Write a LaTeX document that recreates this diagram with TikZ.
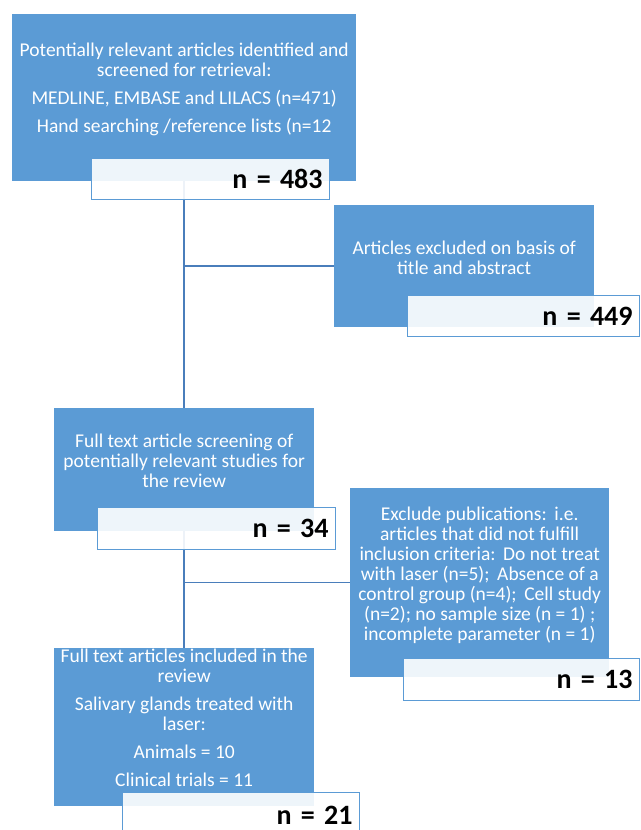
\documentclass[tikz,border=0pt]{standalone}
\usepackage{fontspec}
\setmainfont{Carlito}
\usetikzlibrary{backgrounds,calc}
\pgfdeclarelayer{background}
\pgfsetlayers{background,main}
\definecolor{boxblue}{RGB}{91,155,213}
\definecolor{lineblue}{RGB}{74,126,187}
\tikzset{
  bluebox/.style={fill=boxblue, inner sep=0pt, anchor=north west},
  boxtext/.style={text=white, align=center, inner sep=0pt,
    font=\fontsize{19.5}{20}\selectfont},
  countbox/.style={draw=boxblue, line width=1.2pt, fill=white,
    fill opacity=0.9, text opacity=1, text width=#1, align=right,
    inner xsep=7pt, inner ysep=0pt, anchor=north west,
    font=\bfseries\fontsize{28}{30}\selectfont},
  link/.style={draw=lineblue, line width=1.5pt}
}

\begin{document}
\begin{tikzpicture}[x=1pt,y=-1pt]
\useasboundingbox (0,0) rectangle (640,830);
% boxes
\node[bluebox, minimum width=344pt, minimum height=167pt] (id) at (12,14) {};
\node[bluebox, minimum width=260pt, minimum height=122pt] (ex1) at (334,205) {};
\node[bluebox, minimum width=260pt, minimum height=123pt] (ft) at (54,408) {};
\node[bluebox, minimum width=259pt, minimum height=189pt] (ex2) at (350,488) {};
\node[bluebox, minimum width=260pt, minimum height=158pt] (inc) at (54,648) {};
% texts
\node[boxtext] (idt) at ([yshift=8pt]id.center)
  {Potentially relevant articles identified and\\
   screened for retrieval:\\[8pt]
   MEDLINE, EMBASE and LILACS (n=471)\\[8pt]
   Hand searching /reference lists (n=12};
\node[boxtext] (ex1t) at ([yshift=8pt]ex1.center)
  {Articles excluded on basis of\\ title and abstract};
\node[boxtext] (ftt) at ([yshift=9pt]ft.center)
  {Full text article screening of\\ potentially relevant studies for\\ the review};
\node[boxtext] (ex2t) at ([yshift=7pt]ex2.center)
  {Exclude publications:\ \,i.e.\\
   articles that did not fulfill\\
   inclusion criteria:\ \,Do not treat\\
   with laser (n=5);\ \,Absence of a\\
   control group (n=4);\ \,Cell study\\
   (n=2); no sample size (n = 1) ;\\
   incomplete parameter (n = 1)};
\node[boxtext] (inct) at ([yshift=9pt]inc.center)
  {Full text articles included in the\\ review\\[8pt]
   Salivary glands treated with\\ laser:\\[8pt]
   Animals = 10\\[8pt]
   Clinical trials = 11};
% counts
\node[countbox=224pt, minimum height=41pt] (nid) at (91,158) {n = 483};
\node[countbox=218pt, minimum height=41pt] (nex1) at (407,295) {n = 449};
\node[countbox=224pt, minimum height=42pt] (nft) at (97,507) {n = 34};
\node[countbox=222pt, minimum height=42pt] (nex2) at (403,658) {n = 13};
\node[countbox=223pt, minimum height=45pt] (ninc) at (122,792) {n = 21};
\begin{pgfonlayer}{background}
\draw[link] (id.south) -- (ft.north);
\draw[link] (id.south |- ex1.west) -- (ex1.west);
\draw[link] (ft.south) -- (inc.north);
\draw[link] (ft.south |- ex2.west) -- (ex2.west);
\end{pgfonlayer}
\end{tikzpicture}
\end{document}
